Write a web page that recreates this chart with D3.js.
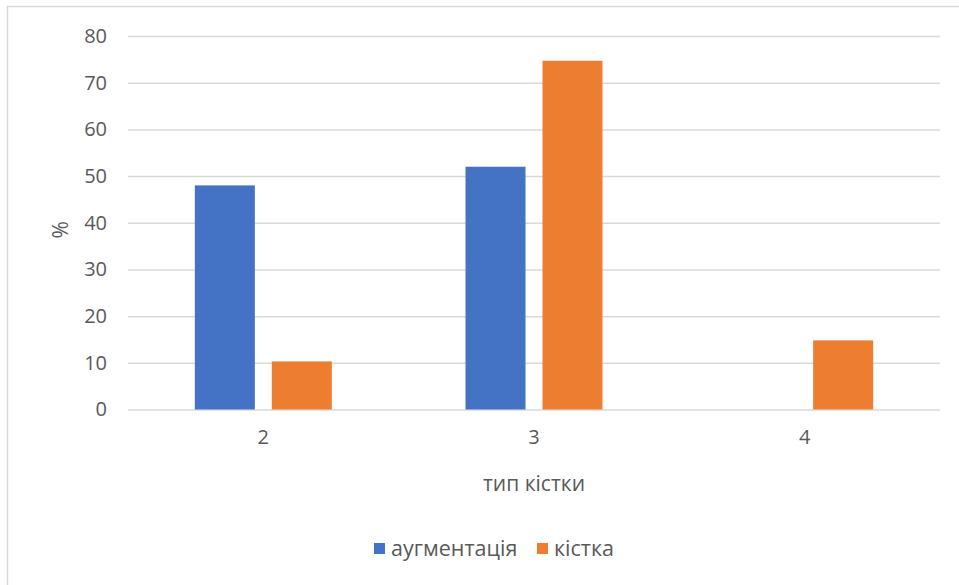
<!DOCTYPE html>
<html>
<head>
<meta charset="utf-8">
<script src="https://cdn.jsdelivr.net/npm/d3@7"></script>
<style>
  html, body { margin: 0; padding: 0; background: #fff; }
  svg { display: block; }
  text { font-family: "Open Sans", "Noto Sans", sans-serif; fill: #595959; }
</style>
</head>
<body>
<svg id="chart" width="959" height="585"></svg>
<script>
// Bone type categories and the share (%) per series
const categories = ["2", "3", "4"];
const seriesNames = ["аугментація", "кістка"];
const augmentation = [48, 52, 0];
const bone = [10.3, 74.7, 14.8];
const yTicks = [0, 10, 20, 30, 40, 50, 60, 70, 80];
const colors = ["#4472C4", "#ED7D31"];

const svg = d3.select("#chart");
const W = 959, H = 585;

// outer chart frame
svg.append("rect")
  .attr("x", 7.5).attr("y", 6.5)
  .attr("width", W + 10).attr("height", H + 10)
  .attr("fill", "#fff").attr("stroke", "#d9d9d9").attr("stroke-width", 1.5);

const plot = { left: 128, right: 940, top: 36, bottom: 409.5 };

const x = d3.scaleBand().domain(categories).range([plot.left, plot.right]);
const barW = 60, barGap = 17, groupW = 2 * barW + barGap;
const xs = d3.scaleBand().domain(seriesNames)
  .range([0, groupW]).paddingInner(barGap / (barW + barGap));
const y = d3.scaleLinear().domain([0, 80]).range([plot.bottom, plot.top]);

// gridlines
svg.append("g")
  .attr("transform", `translate(${plot.left},0)`)
  .call(d3.axisLeft(y).tickValues(yTicks).tickSize(-(plot.right - plot.left)).tickFormat(""))
  .call(g => g.select(".domain").remove())
  .call(g => g.selectAll("line").attr("stroke", "#d9d9d9").attr("stroke-width", 1.5));

// y tick labels
svg.append("g")
  .attr("transform", `translate(${plot.left},0)`)
  .call(d3.axisLeft(y).tickValues(yTicks).tickSize(0).tickPadding(21))
  .call(g => g.select(".domain").remove())
  .call(g => g.selectAll("text").style("font-size", "20px").attr("fill", "#595959"));

// bars
const data = categories.map((c, i) => ({ c, vals: [augmentation[i], bone[i]] }));
const groups = svg.append("g").selectAll("g").data(data).join("g")
  .attr("transform", d => `translate(${x(d.c) + (x.bandwidth() - groupW) / 2},0)`);
groups.selectAll("rect")
  .data(d => d.vals.map((v, k) => ({ k, v })).filter(e => e.v > 0))
  .join("rect")
  .attr("x", e => xs(seriesNames[e.k]))
  .attr("width", xs.bandwidth())
  .attr("y", e => y(e.v))
  .attr("height", e => y(0) - y(e.v))
  .attr("fill", e => colors[e.k]);

// x category labels
svg.append("g")
  .attr("transform", `translate(0,${plot.bottom})`)
  .call(d3.axisBottom(x).tickSize(0).tickPadding(20))
  .call(g => g.select(".domain").remove())
  .call(g => g.selectAll("text").style("font-size", "20px").attr("fill", "#595959"));

// axis titles
svg.append("text")
  .attr("x", (plot.left + plot.right) / 2).attr("y", 491)
  .attr("text-anchor", "middle").style("font-size", "21px")
  .text("тип кістки");
svg.append("text")
  .attr("transform", `translate(68,${(plot.top + plot.bottom) / 2 + 7}) rotate(-90)`)
  .attr("text-anchor", "middle").style("font-size", "21px")
  .text("%");

// legend
const legend = svg.append("g").attr("transform", "translate(374,549)");
const legendX = [0, 163];
seriesNames.forEach((name, i) => {
  const g = legend.append("g").attr("transform", `translate(${legendX[i]},0)`);
  g.append("rect").attr("x", 0).attr("y", -6).attr("width", 11).attr("height", 11).attr("fill", colors[i]);
  g.append("text").attr("x", 17).attr("y", 7).style("font-size", "21.5px").text(name);
});
</script>
</body>
</html>
